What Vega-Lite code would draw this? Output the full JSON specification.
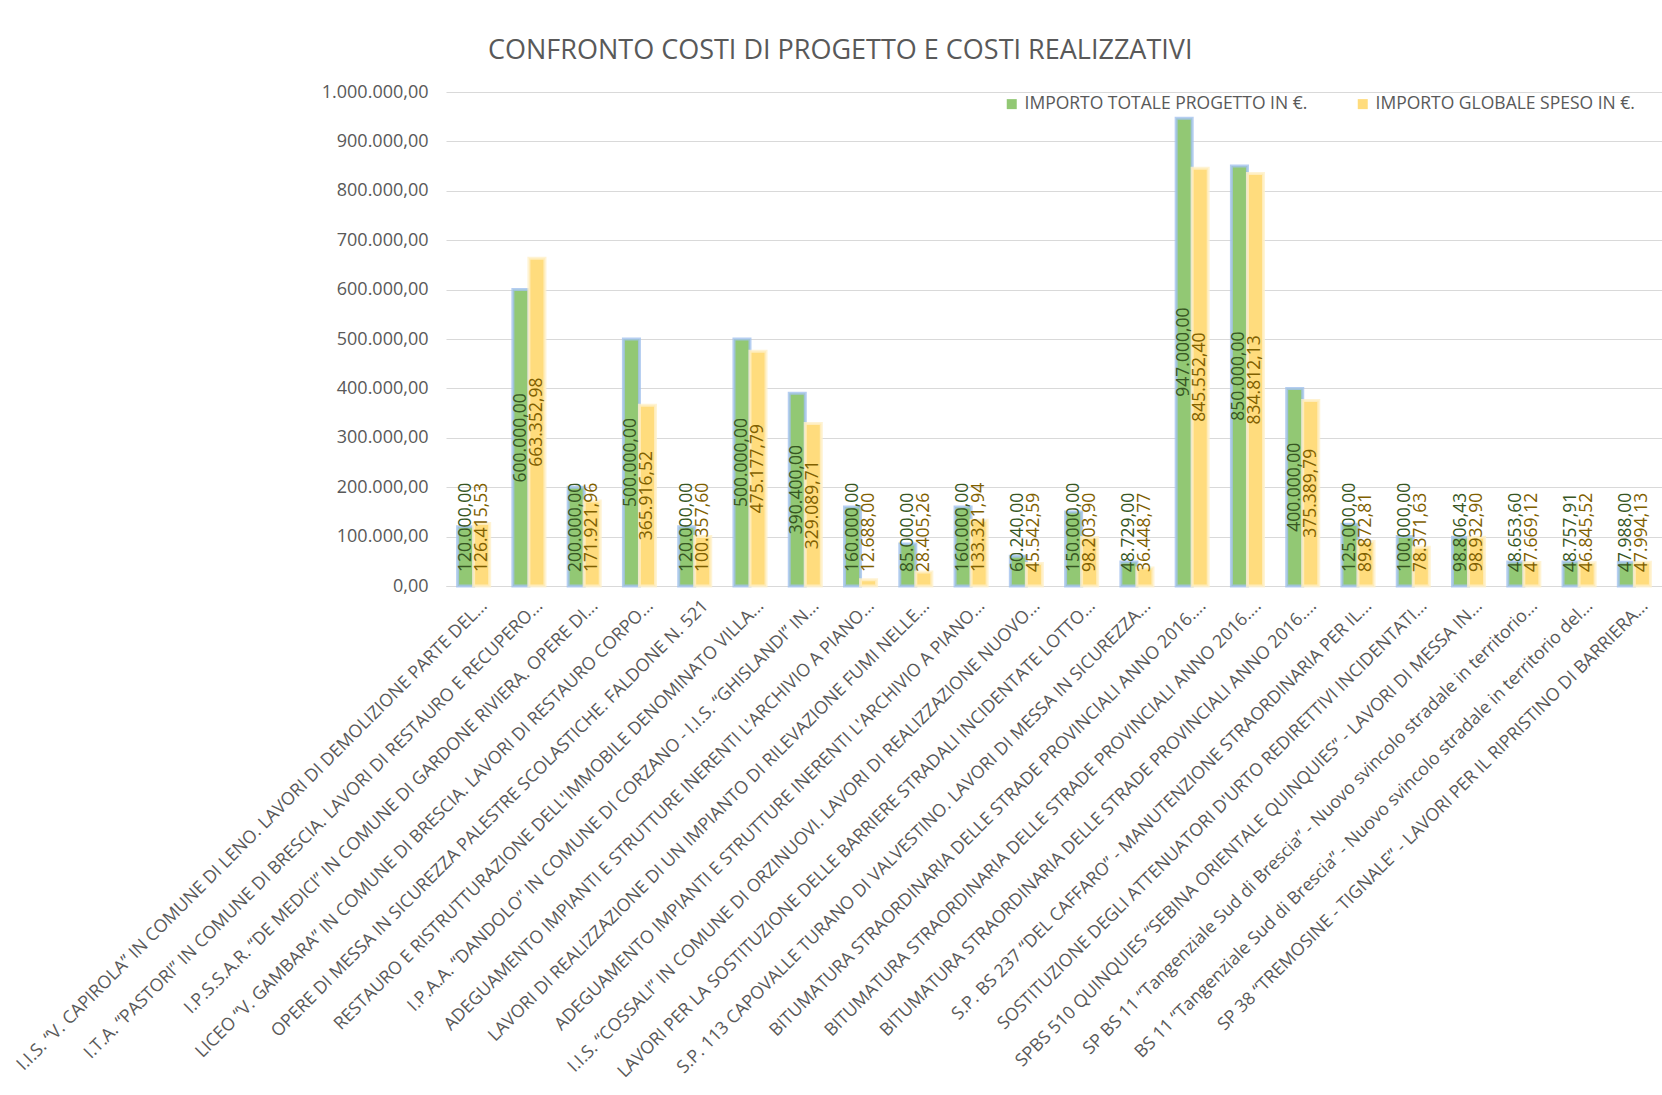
{
  "$schema": "https://vega.github.io/schema/vega-lite/v6.json",
  "width": 1216,
  "height": 494,
  "autosize": {"type": "none"},
  "padding": {"left": 446, "top": 92, "right": 0, "bottom": 509},
  "background": "white",
  "title": {
    "text": "CONFRONTO COSTI DI PROGETTO E COSTI REALIZZATIVI",
    "anchor": "start",
    "frame": "group",
    "dx": 42,
    "offset": 18,
    "font": "Open Sans",
    "fontSize": 27,
    "fontWeight": "normal",
    "color": "#595959"
  },
  "config": {
    "locale": {"number": {"decimal": ",", "thousands": ".", "grouping": [3], "currency": ["€", ""]}},
    "view": {"stroke": null},
    "font": "Open Sans"
  },
  "data": {
    "values": [
      {"progetto": "I.I.S. “V. CAPIROLA” IN COMUNE DI LENO. LAVORI DI DEMOLIZIONE PARTE DEL...", "serie": "IMPORTO TOTALE PROGETTO IN €.", "importo": 120000.00},
      {"progetto": "I.I.S. “V. CAPIROLA” IN COMUNE DI LENO. LAVORI DI DEMOLIZIONE PARTE DEL...", "serie": "IMPORTO GLOBALE SPESO IN €.", "importo": 126415.53},
      {"progetto": "I.T.A. “PASTORI” IN COMUNE DI BRESCIA. LAVORI DI RESTAURO E RECUPERO...", "serie": "IMPORTO TOTALE PROGETTO IN €.", "importo": 600000.00},
      {"progetto": "I.T.A. “PASTORI” IN COMUNE DI BRESCIA. LAVORI DI RESTAURO E RECUPERO...", "serie": "IMPORTO GLOBALE SPESO IN €.", "importo": 663352.98},
      {"progetto": "I.P.S.S.A.R. “DE MEDICI” IN COMUNE DI GARDONE RIVIERA. OPERE DI...", "serie": "IMPORTO TOTALE PROGETTO IN €.", "importo": 200000.00},
      {"progetto": "I.P.S.S.A.R. “DE MEDICI” IN COMUNE DI GARDONE RIVIERA. OPERE DI...", "serie": "IMPORTO GLOBALE SPESO IN €.", "importo": 171921.96},
      {"progetto": "LICEO “V. GAMBARA” IN COMUNE DI BRESCIA. LAVORI DI RESTAURO CORPO...", "serie": "IMPORTO TOTALE PROGETTO IN €.", "importo": 500000.00},
      {"progetto": "LICEO “V. GAMBARA” IN COMUNE DI BRESCIA. LAVORI DI RESTAURO CORPO...", "serie": "IMPORTO GLOBALE SPESO IN €.", "importo": 365916.52},
      {"progetto": "OPERE DI MESSA IN SICUREZZA PALESTRE SCOLASTICHE.  FALDONE N. 521", "serie": "IMPORTO TOTALE PROGETTO IN €.", "importo": 120000.00},
      {"progetto": "OPERE DI MESSA IN SICUREZZA PALESTRE SCOLASTICHE.  FALDONE N. 521", "serie": "IMPORTO GLOBALE SPESO IN €.", "importo": 100357.60},
      {"progetto": "RESTAURO E RISTRUTTURAZIONE DELL'IMMOBILE DENOMINATO VILLA...", "serie": "IMPORTO TOTALE PROGETTO IN €.", "importo": 500000.00},
      {"progetto": "RESTAURO E RISTRUTTURAZIONE DELL'IMMOBILE DENOMINATO VILLA...", "serie": "IMPORTO GLOBALE SPESO IN €.", "importo": 475177.79},
      {"progetto": "I.P.A.A. “DANDOLO” IN COMUNE DI CORZANO - I.I.S. “GHISLANDI” IN...", "serie": "IMPORTO TOTALE PROGETTO IN €.", "importo": 390400.00},
      {"progetto": "I.P.A.A. “DANDOLO” IN COMUNE DI CORZANO - I.I.S. “GHISLANDI” IN...", "serie": "IMPORTO GLOBALE SPESO IN €.", "importo": 329089.71},
      {"progetto": "ADEGUAMENTO IMPIANTI E STRUTTURE INERENTI L'ARCHIVIO A PIANO...", "serie": "IMPORTO TOTALE PROGETTO IN €.", "importo": 160000.00},
      {"progetto": "ADEGUAMENTO IMPIANTI E STRUTTURE INERENTI L'ARCHIVIO A PIANO...", "serie": "IMPORTO GLOBALE SPESO IN €.", "importo": 12688.00},
      {"progetto": "LAVORI DI REALIZZAZIONE DI UN IMPIANTO DI RILEVAZIONE FUMI NELLE...", "serie": "IMPORTO TOTALE PROGETTO IN €.", "importo": 85000.00},
      {"progetto": "LAVORI DI REALIZZAZIONE DI UN IMPIANTO DI RILEVAZIONE FUMI NELLE...", "serie": "IMPORTO GLOBALE SPESO IN €.", "importo": 28405.26},
      {"progetto": "ADEGUAMENTO IMPIANTI E STRUTTURE INERENTI L'ARCHIVIO A PIANO...\u200b", "serie": "IMPORTO TOTALE PROGETTO IN €.", "importo": 160000.00},
      {"progetto": "ADEGUAMENTO IMPIANTI E STRUTTURE INERENTI L'ARCHIVIO A PIANO...\u200b", "serie": "IMPORTO GLOBALE SPESO IN €.", "importo": 133321.94},
      {"progetto": "I.I.S. “COSSALI” IN COMUNE DI ORZINUOVI. LAVORI DI REALIZZAZIONE NUOVO...", "serie": "IMPORTO TOTALE PROGETTO IN €.", "importo": 60240.00},
      {"progetto": "I.I.S. “COSSALI” IN COMUNE DI ORZINUOVI. LAVORI DI REALIZZAZIONE NUOVO...", "serie": "IMPORTO GLOBALE SPESO IN €.", "importo": 45542.59},
      {"progetto": "LAVORI PER LA SOSTITUZIONE DELLE BARRIERE STRADALI INCIDENTATE LOTTO...", "serie": "IMPORTO TOTALE PROGETTO IN €.", "importo": 150000.00},
      {"progetto": "LAVORI PER LA SOSTITUZIONE DELLE BARRIERE STRADALI INCIDENTATE LOTTO...", "serie": "IMPORTO GLOBALE SPESO IN €.", "importo": 98203.90},
      {"progetto": "S.P. 113 CAPOVALLE TURANO DI VALVESTINO. LAVORI DI MESSA IN SICUREZZA...", "serie": "IMPORTO TOTALE PROGETTO IN €.", "importo": 48729.00},
      {"progetto": "S.P. 113 CAPOVALLE TURANO DI VALVESTINO. LAVORI DI MESSA IN SICUREZZA...", "serie": "IMPORTO GLOBALE SPESO IN €.", "importo": 36448.77},
      {"progetto": "BITUMATURA STRAORDINARIA DELLE STRADE PROVINCIALI ANNO 2016....", "serie": "IMPORTO TOTALE PROGETTO IN €.", "importo": 947000.00},
      {"progetto": "BITUMATURA STRAORDINARIA DELLE STRADE PROVINCIALI ANNO 2016....", "serie": "IMPORTO GLOBALE SPESO IN €.", "importo": 845552.40},
      {"progetto": "BITUMATURA STRAORDINARIA DELLE STRADE PROVINCIALI ANNO 2016....\u200b", "serie": "IMPORTO TOTALE PROGETTO IN €.", "importo": 850000.00},
      {"progetto": "BITUMATURA STRAORDINARIA DELLE STRADE PROVINCIALI ANNO 2016....\u200b", "serie": "IMPORTO GLOBALE SPESO IN €.", "importo": 834812.13},
      {"progetto": "BITUMATURA STRAORDINARIA DELLE STRADE PROVINCIALI ANNO 2016....\u200b\u200b", "serie": "IMPORTO TOTALE PROGETTO IN €.", "importo": 400000.00},
      {"progetto": "BITUMATURA STRAORDINARIA DELLE STRADE PROVINCIALI ANNO 2016....\u200b\u200b", "serie": "IMPORTO GLOBALE SPESO IN €.", "importo": 375389.79},
      {"progetto": "S.P. BS 237 “DEL CAFFARO” - MANUTENZIONE STRAORDINARIA PER IL...", "serie": "IMPORTO TOTALE PROGETTO IN €.", "importo": 125000.00},
      {"progetto": "S.P. BS 237 “DEL CAFFARO” - MANUTENZIONE STRAORDINARIA PER IL...", "serie": "IMPORTO GLOBALE SPESO IN €.", "importo": 89872.81},
      {"progetto": "SOSTITUZIONE DEGLI ATTENUATORI D'URTO REDIRETTIVI INCIDENTATI...", "serie": "IMPORTO TOTALE PROGETTO IN €.", "importo": 100000.00},
      {"progetto": "SOSTITUZIONE DEGLI ATTENUATORI D'URTO REDIRETTIVI INCIDENTATI...", "serie": "IMPORTO GLOBALE SPESO IN €.", "importo": 78371.63},
      {"progetto": "SPBS 510 QUINQUIES “SEBINA ORIENTALE QUINQUIES” - LAVORI DI MESSA IN...", "serie": "IMPORTO TOTALE PROGETTO IN €.", "importo": 98806.43},
      {"progetto": "SPBS 510 QUINQUIES “SEBINA ORIENTALE QUINQUIES” - LAVORI DI MESSA IN...", "serie": "IMPORTO GLOBALE SPESO IN €.", "importo": 98932.90},
      {"progetto": "SP BS 11 “Tangenziale Sud di Brescia” - Nuovo svincolo stradale in territorio...", "serie": "IMPORTO TOTALE PROGETTO IN €.", "importo": 48653.60},
      {"progetto": "SP BS 11 “Tangenziale Sud di Brescia” - Nuovo svincolo stradale in territorio...", "serie": "IMPORTO GLOBALE SPESO IN €.", "importo": 47669.12},
      {"progetto": "BS 11 “Tangenziale Sud di Brescia” - Nuovo svincolo stradale in territorio del...", "serie": "IMPORTO TOTALE PROGETTO IN €.", "importo": 48757.91},
      {"progetto": "BS 11 “Tangenziale Sud di Brescia” - Nuovo svincolo stradale in territorio del...", "serie": "IMPORTO GLOBALE SPESO IN €.", "importo": 46845.52},
      {"progetto": "SP 38 “TREMOSINE - TIGNALE” - LAVORI PER IL RIPRISTINO DI BARRIERA...", "serie": "IMPORTO TOTALE PROGETTO IN €.", "importo": 47988.00},
      {"progetto": "SP 38 “TREMOSINE - TIGNALE” - LAVORI PER IL RIPRISTINO DI BARRIERA...", "serie": "IMPORTO GLOBALE SPESO IN €.", "importo": 47994.13}
    ]
  },
  "encoding": {
    "x": {
      "field": "progetto",
      "type": "nominal",
      "sort": null,
      "scale": {"paddingInner": 0.42, "paddingOuter": 0.21},
      "axis": {
        "title": null,
        "labelAngle": -45,
        "labelAlign": "right",
        "labelBaseline": "middle",
        "labelPadding": 17,
        "labelOffset": 11,
        "labelFont": "Open Sans",
        "labelFontSize": 17.8,
        "labelColor": "#595959",
        "labelLimit": 1000,
        "labelOverlap": false,
        "labelBound": false,
        "ticks": false,
        "domain": true,
        "domainColor": "#d9d9d9",
        "grid": false
      }
    },
    "xOffset": {
      "field": "serie",
      "type": "nominal",
      "sort": ["IMPORTO TOTALE PROGETTO IN €.", "IMPORTO GLOBALE SPESO IN €."],
      "scale": {"paddingInner": 0, "paddingOuter": 0}
    }
  },
  "layer": [
    {
      "mark": {"type": "bar", "strokeWidth": 3, "strokeOpacity": 0.8},
      "encoding": {
        "y": {
          "field": "importo",
          "type": "quantitative",
          "scale": {"domain": [0, 1000000], "nice": false},
          "axis": {
            "title": null,
            "values": [0, 100000, 200000, 300000, 400000, 500000, 600000, 700000, 800000, 900000, 1000000],
            "format": ",.2f",
            "labelFont": "Open Sans",
            "labelFontSize": 18,
            "labelColor": "#595959",
            "labelPadding": 18,
            "ticks": false,
            "domain": false,
            "grid": true,
            "gridColor": "#d9d9d9",
            "gridWidth": 1
          }
        },
        "color": {
          "field": "serie",
          "type": "nominal",
          "scale": {
            "domain": ["IMPORTO TOTALE PROGETTO IN €.", "IMPORTO GLOBALE SPESO IN €."],
            "range": ["#92C874", "#FFDC7D"]
          },
          "legend": {
            "title": null,
            "orient": "none",
            "legendX": 557,
            "legendY": 3,
            "direction": "horizontal",
            "symbolType": "square",
            "symbolSize": 100,
            "symbolStrokeWidth": 0,
            "labelFont": "Open Sans",
            "labelFontSize": 17.5,
            "labelColor": "#595959",
            "labelOffset": 4,
            "labelLimit": 500,
            "columnPadding": 46
          }
        },
        "stroke": {
          "field": "serie",
          "type": "nominal",
          "scale": {
            "domain": ["IMPORTO TOTALE PROGETTO IN €.", "IMPORTO GLOBALE SPESO IN €."],
            "range": ["#a3c2ee", "#fff0c8"]
          },
          "legend": null
        }
      }
    },
    {
      "mark": {"type": "text", "angle": 270, "align": "center", "baseline": "middle", "font": "Open Sans", "fontSize": 17.5},
      "encoding": {
        "y": {
          "field": "importo",
          "type": "quantitative",
          "scale": {"domain": [0, 2000000], "nice": false},
          "axis": null
        },
        "text": {
          "condition": {"test": "datum.importo >= 242000", "field": "importo", "type": "quantitative", "format": ",.2f"},
          "value": ""
        },
        "color": {
          "condition": {"test": "datum.serie == 'IMPORTO TOTALE PROGETTO IN €.'", "value": "#375623"},
          "value": "#7F6000"
        }
      }
    },
    {
      "mark": {"type": "text", "angle": 270, "align": "left", "baseline": "middle", "dx": 14, "font": "Open Sans", "fontSize": 17.5},
      "encoding": {
        "y": {
          "datum": 0,
          "type": "quantitative",
          "scale": {"domain": [0, 1000000], "nice": false},
          "axis": null
        },
        "text": {
          "condition": {"test": "datum.importo < 242000", "field": "importo", "type": "quantitative", "format": ",.2f"},
          "value": ""
        },
        "color": {
          "condition": {"test": "datum.serie == 'IMPORTO TOTALE PROGETTO IN €.'", "value": "#375623"},
          "value": "#7F6000"
        }
      }
    }
  ],
  "resolve": {"scale": {"y": "independent"}}
}
